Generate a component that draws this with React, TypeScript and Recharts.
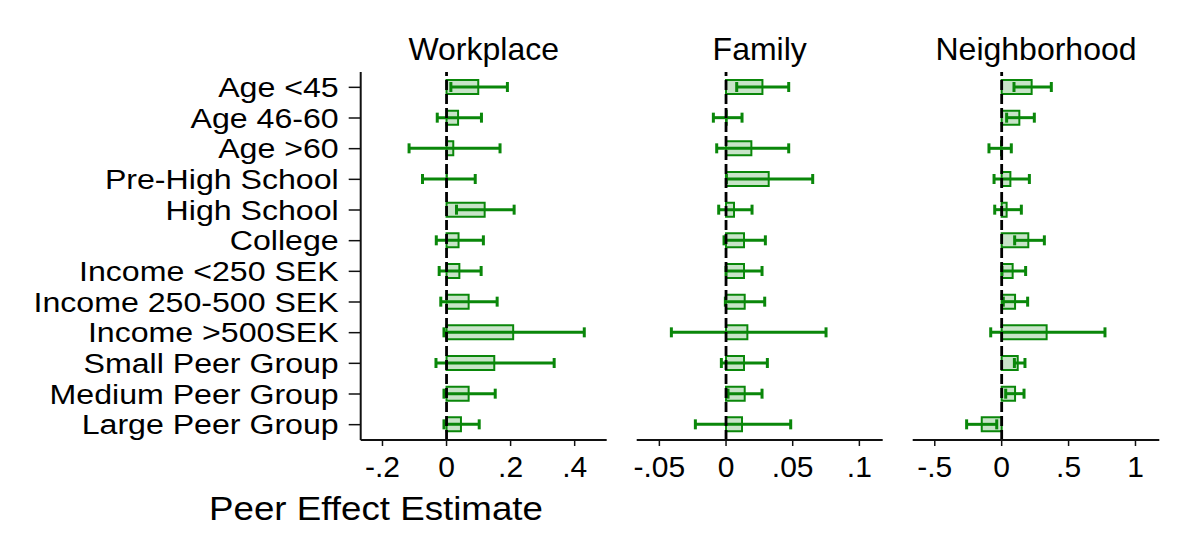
import React from 'react';
import { BarChart, Bar, XAxis, YAxis, ErrorBar, ReferenceLine } from 'recharts';

const categories = [
  'Age <45', 'Age 46-60', 'Age >60', 'Pre-High School', 'High School', 'College',
  'Income <250 SEK', 'Income 250-500 SEK', 'Income >500SEK',
  'Small Peer Group', 'Medium Peer Group', 'Large Peer Group',
];

const panelTitles = ['Workplace', 'Family', 'Neighborhood'];

const workplaceEst = [0.099, 0.036, 0.021, 0.001, 0.119, 0.0375, 0.040, 0.069, 0.208, 0.149, 0.069, 0.045];
const workplaceLo = [0.0135, -0.029, -0.117, -0.075, 0.031, -0.032, -0.023, -0.018, -0.008, -0.033, -0.008, -0.008];
const workplaceHi = [0.19, 0.109, 0.167, 0.0896, 0.211, 0.115, 0.108, 0.158, 0.43, 0.336, 0.152, 0.102];

const familyEst = [0.0273, 0.0005, 0.019, 0.032, 0.006, 0.0135, 0.0135, 0.014, 0.016, 0.0135, 0.014, 0.012];
const familyLo = [0.008, -0.0095, -0.007, 0.0003, -0.0055, -0.0015, 0.0, -0.0005, -0.041, -0.0035, 0.0015, -0.023];
const familyHi = [0.047, 0.012, 0.047, 0.065, 0.0195, 0.0295, 0.027, 0.029, 0.075, 0.031, 0.027, 0.0485];

const neighborhoodEst = [0.224, 0.132, -0.005, 0.065, 0.037, 0.199, 0.082, 0.1, 0.336, 0.12, 0.1, -0.149];
const neighborhoodLo = [0.092, 0.037, -0.095, -0.057, -0.052, 0.097, 0.002, 0.012, -0.082, 0.095, 0.03, -0.262];
const neighborhoodHi = [0.371, 0.244, 0.072, 0.207, 0.147, 0.319, 0.179, 0.194, 0.772, 0.174, 0.167, -0.037];

const workplaceTicks = [-0.2, 0, 0.2, 0.4];
const workplaceTickLabels = ['-.2', '0', '.2', '.4'];
const familyTicks = [-0.05, 0, 0.05, 0.1];
const familyTickLabels = ['-.05', '0', '.05', '.1'];
const neighborhoodTicks = [-0.5, 0, 0.5, 1];
const neighborhoodTickLabels = ['-.5', '0', '.5', '1'];

const xTitle = 'Peer Effect Estimate';

const FONT = '"Liberation Sans", Arial, sans-serif';
const STROKE = '#0a870a';
const FILL = '#c8e4c8';

function build(est: number[], lo: number[], hi: number[]) {
  return categories.map((label, i) => ({
    label,
    est: est[i],
    err: [est[i] - lo[i], hi[i] - est[i]],
  }));
}

function YTick(props: any) {
  const { x, y, payload } = props;
  return (
    <g transform={`translate(${x},${y}) scale(1.19,1)`}>
      <text x={0} y={0} dy="0.36em" textAnchor="end" fontSize={27} fontFamily={FONT} fill="#000">
        {payload.value}
      </text>
    </g>
  );
}

type PanelProps = {
  data: any[];
  left: number;
  width: number;
  margin: { top: number; right: number; bottom: number; left: number };
  domain: [number, number];
  ticks: number[];
  tickLabels: string[];
  showY: boolean;
  yWidth: number;
};

function Panel({ data, left, width, margin, domain, ticks, tickLabels, showY, yWidth }: PanelProps) {
  return (
    <div style={{ position: 'absolute', left, top: 0 }}>
      <BarChart
        width={width}
        height={542}
        data={data}
        layout="vertical"
        margin={margin}
        barCategoryGap={0}
      >
        <XAxis
          type="number"
          domain={domain}
          allowDataOverflow
          ticks={ticks}
          interval={0}
          tickFormatter={(v: number) => tickLabels[ticks.indexOf(v)] ?? String(v)}
          axisLine={{ stroke: '#111', strokeWidth: 2 }}
          tickLine={{ stroke: '#111', strokeWidth: 1.5 }}
          tickSize={6}
          tickMargin={10}
          height={40}
          tick={{ fill: '#000', fontSize: 30, fontFamily: FONT }}
        />
        <YAxis
          type="category"
          dataKey="label"
          hide={!showY}
          width={yWidth}
          interval={0}
          axisLine={{ stroke: '#111', strokeWidth: 2 }}
          tickLine={{ stroke: '#111', strokeWidth: 1.5 }}
          tickSize={12}
          tickMargin={10}
          tick={<YTick />}
        />
        <Bar
          dataKey="est"
          fill={FILL}
          stroke={STROKE}
          strokeWidth={2}
          barSize={14}
          isAnimationActive={false}
        >
          <ErrorBar
            dataKey="err"
            direction="x"
            width={5}
            stroke={STROKE}
            strokeWidth={3}
            isAnimationActive={false}
          />
        </Bar>
        <ReferenceLine x={0} stroke="#000" strokeWidth={2.8} strokeDasharray="10 4" />
      </BarChart>
    </div>
  );
}

export default function App() {
  const wp = build(workplaceEst, workplaceLo, workplaceHi);
  const fam = build(familyEst, familyLo, familyHi);
  const nb = build(neighborhoodEst, neighborhoodLo, neighborhoodHi);
  const titleX = [483.7, 759.7, 1036];
  return (
    <div style={{ position: 'absolute', left: 0, top: 0, width: 1202, height: 542, background: '#fff' }}>
      <Panel
        data={wp}
        left={0}
        width={620}
        margin={{ top: 72, right: 13.3, bottom: 62, left: 0 }}
        domain={[-0.268, 0.5]}
        ticks={workplaceTicks}
        tickLabels={workplaceTickLabels}
        showY
        yWidth={360.7}
      />
      <Panel
        data={fam}
        left={620}
        width={280}
        margin={{ top: 72, right: 17.3, bottom: 62, left: 16.7 }}
        domain={[-0.067, 0.1175]}
        ticks={familyTicks}
        tickLabels={familyTickLabels}
        showY={false}
        yWidth={0}
      />
      <Panel
        data={nb}
        left={900}
        width={302}
        margin={{ top: 72, right: 42.7, bottom: 62, left: 12.7 }}
        domain={[-0.665, 1.178]}
        ticks={neighborhoodTicks}
        tickLabels={neighborhoodTickLabels}
        showY={false}
        yWidth={0}
      />
      <svg width={1202} height={542} style={{ position: 'absolute', left: 0, top: 0, pointerEvents: 'none' }}>
        {panelTitles.map((t, i) => (
          <text key={t} x={titleX[i]} y={60} textAnchor="middle" fontSize={32} fontFamily={FONT} fill="#000">
            {t}
          </text>
        ))}
        <g transform="translate(376,520) scale(1.08,1)">
          <text x={0} y={0} textAnchor="middle" fontSize={34} fontFamily={FONT} fill="#000">
            {xTitle}
          </text>
        </g>
      </svg>
    </div>
  );
}
